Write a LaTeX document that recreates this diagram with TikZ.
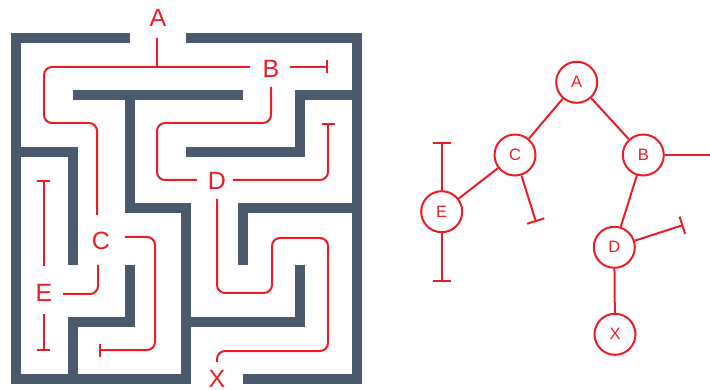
\documentclass[tikz,border=0pt]{standalone}
\usepackage{fontspec}
\setmainfont{Liberation Sans}
\usepackage{tikz}
\usetikzlibrary{arrows.meta}

\definecolor{muro}{RGB}{74,89,107}
\definecolor{rojo}{RGB}{237,28,36}

\begin{document}
\begin{tikzpicture}[x=1pt, y=-1pt,
        pared/.style={muro, line width=10pt, line join=miter},
        camino/.style={rojo, line width=2pt, rounded corners=8pt},
        fin/.style={-{Bar[width=#1]}}, fin/.default=13pt,
        letra/.style={text=rojo, font=\fontsize{25}{30}\selectfont, inner sep=0pt},
        nodo/.style={circle, draw=rojo, line width=2pt, minimum size=41pt, inner sep=0pt,
            text=rojo, font=\fontsize{16.5}{20}\selectfont},
        rama/.style={rojo, line width=2pt}]
        \useasboundingbox (0,0) rectangle (710,390);

        % Paredes del laberinto (en casillas)
        \begin{scope}[shift={(16,38)}, x=56.8pt, y=-56.8pt]
            \draw[pared] (2,0) -- (0,0) -- (0,6) -- (3,6) -- (3,3) -- (2,3) -- (2,1);
            \draw[pared] (3,0) -- (6,0) -- (6,6) -- (4,6);
            \draw[pared] (1,1) -- (4,1);
            \draw[pared] (0,2) -- (1,2) -- (1,4);
            \draw[pared] (2,4) -- (2,5) -- (1,5) -- (1,6);
            \draw[pared] (6,1) -- (5,1) -- (5,2) -- (3,2);
            \draw[pared] (6,3) -- (4,3) -- (4,4);
            \draw[pared] (3,5) -- (5,5) -- (5,4);
        \end{scope}

        % Letras del laberinto
        \node[letra] (lA) at (158,17.5) {A};
        \node[letra] (lB) at (271,68.5) {B};
        \node[letra] (lC) at (101,240.5) {C};
        \node[letra] (lD) at (217,181) {D};
        \node[letra] (lE) at (44,293) {E};
        \node[letra] (lX) at (217,379) {X};

        % Caminos
        \draw[camino] (157,38) -- (157,67);
        \draw[camino] (250,67) -- (44,67) -- (44,123) -- (97,123) -- (97,215);
        \draw[camino, fin] (290,67) -- (328,67);
        \draw[camino] (271,87) -- (271,123) -- (157,123) -- (157,180) -- (197,180);
        \draw[camino, fin] (233,180) -- (328,180) -- (328,123);
        \draw[camino] (217,199) -- (217,293) -- (272,293) -- (272,238) -- (328,238)
            -- (328,351) -- (217,351) -- (217,362);
        \draw[camino, fin] (125,237) -- (155,237) -- (155,350) -- (99,350);
        \draw[camino] (98,265) -- (98,294) -- (63,294);
        \draw[camino, fin] (43.5,266) -- (43.5,180);
        \draw[camino, fin] (43.5,314) -- (43.5,351);

        % Arbol
        \node[nodo] (A) at (576.7,82.3) {A};
        \node[nodo] (C) at (515,155) {C};
        \node[nodo] (B) at (643.3,155) {B};
        \node[nodo] (E) at (441.7,211.7) {E};
        \node[nodo] (D) at (614.3,247.3) {D};
        \node[nodo] (X) at (615,334.3) {X};

        \coordinate (finE1) at (441.7,141.7);
        \coordinate (finE2) at (441.7,282.3);
        \coordinate (finC) at (536,222);
        \coordinate (finD) at (683.3,225);
        \coordinate (finB) at (712,155);

        \draw[rama] (A) -- (C);
        \draw[rama] (A) -- (B);
        \draw[rama] (C) -- (E);
        \draw[rama] (B) -- (D);
        \draw[rama] (D) -- (X);
        \draw[rama, fin=18pt] (E) -- (finE1);
        \draw[rama, fin=18pt] (E) -- (finE2);
        \draw[rama, fin=18pt] (C) -- (finC);
        \draw[rama, fin=18pt] (D) -- (finD);
        \draw[rama] (B) -- (finB);
    \end{tikzpicture}
\end{document}
